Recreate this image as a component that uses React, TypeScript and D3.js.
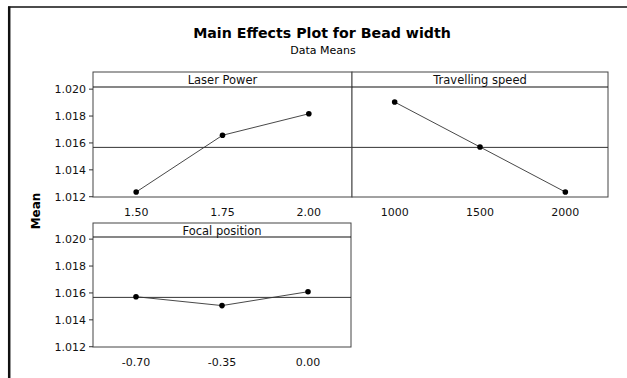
import React from "react";
import * as d3 from "d3";

const laserPower = ["1.50", "1.75", "2.00"];
const laserMeans = [1.01235, 1.01657, 1.01817];
const travelSpeed = ["1000", "1500", "2000"];
const travelMeans = [1.01904, 1.0157, 1.01235];
const focalPosition = ["-0.70", "-0.35", "0.00"];
const focalMeans = [1.01572, 1.01506, 1.01609];
const grandMean = 1.01567;
const yTicks = [1.012, 1.014, 1.016, 1.018, 1.02];
const yDomain: [number, number] = [1.01198, 1.02016];

const FONT = "'DejaVu Sans', Verdana, sans-serif";

type PanelProps = {
  x0: number;
  x1: number;
  top: number;
  strip: number;
  bottom: number;
  title: string;
  cats: string[];
  vals: number[];
  showY: boolean;
};

function Panel({ x0, x1, top, strip, bottom, title, cats, vals, showY }: PanelProps) {
  const x = d3.scalePoint<string>().domain(cats).range([x0, x1]).padding(0.5);
  const y = d3.scaleLinear().domain(yDomain).range([bottom, strip]);
  const line = d3
    .line<number>()
    .x((_, i) => x(cats[i]) as number)
    .y((d) => y(d));
  return (
    <g>
      <rect x={x0} y={top} width={x1 - x0} height={bottom - top} fill="white" stroke="#444" strokeWidth={1} />
      <line x1={x0} x2={x1} y1={strip} y2={strip} stroke="#111" strokeWidth={1.2} />
      <text x={(x0 + x1) / 2} y={top + 11.5} textAnchor="middle" fontFamily={FONT} fontSize={11.5} fill="#111">
        {title}
      </text>
      <line x1={x0} x2={x1} y1={y(grandMean)} y2={y(grandMean)} stroke="#333" strokeWidth={1} />
      <path d={line(vals) || ""} fill="none" stroke="#333" strokeWidth={0.9} />
      {vals.map((v, i) => (
        <circle key={i} cx={x(cats[i])} cy={y(v)} r={2.8} fill="#000" />
      ))}
      {cats.map((c) => (
        <text key={c} x={x(c)} y={bottom + 19} textAnchor="middle" fontFamily={FONT} fontSize={11} fill="#111">
          {c}
        </text>
      ))}
      {showY &&
        yTicks.map((t) => (
          <g key={t}>
            <line x1={x0 - 4} x2={x0} y1={y(t)} y2={y(t)} stroke="#333" strokeWidth={1} />
            <text x={x0 - 7} y={y(t) + 4} textAnchor="end" fontFamily={FONT} fontSize={11} fill="#111">
              {d3.format(".3f")(t)}
            </text>
          </g>
        ))}
    </g>
  );
}

export default function App() {
  return (
    <div style={{ position: "absolute", left: 0, top: 0 }}>
      <svg width={627} height={378} style={{ display: "block", background: "white" }}>
        <line x1={8} x2={627} y1={7} y2={7} stroke="#111" strokeWidth={1.5} />
        <line x1={9.2} x2={9.2} y1={6.5} y2={378} stroke="#111" strokeWidth={2.5} />
        <text x={322} y={38} textAnchor="middle" fontFamily={FONT} fontWeight="bold" fontSize={14.2} fill="#000">
          Main Effects Plot for Bead width
        </text>
        <text x={323} y={54} textAnchor="middle" fontFamily={FONT} fontSize={11} fill="#000">
          Data Means
        </text>
        <text
          transform="translate(40,211) rotate(-90)"
          textAnchor="middle"
          fontFamily={FONT}
          fontWeight="bold"
          fontSize={12}
          fill="#000"
        >
          Mean
        </text>
        <Panel x0={93} x1={352} top={72} strip={87} bottom={197} title="Laser Power" cats={laserPower} vals={laserMeans} showY />
        <Panel x0={352} x1={608} top={72} strip={87} bottom={197} title="Travelling speed" cats={travelSpeed} vals={travelMeans} showY={false} />
        <Panel x0={93} x1={351} top={223} strip={237} bottom={347} title="Focal position" cats={focalPosition} vals={focalMeans} showY />
      </svg>
    </div>
  );
}
